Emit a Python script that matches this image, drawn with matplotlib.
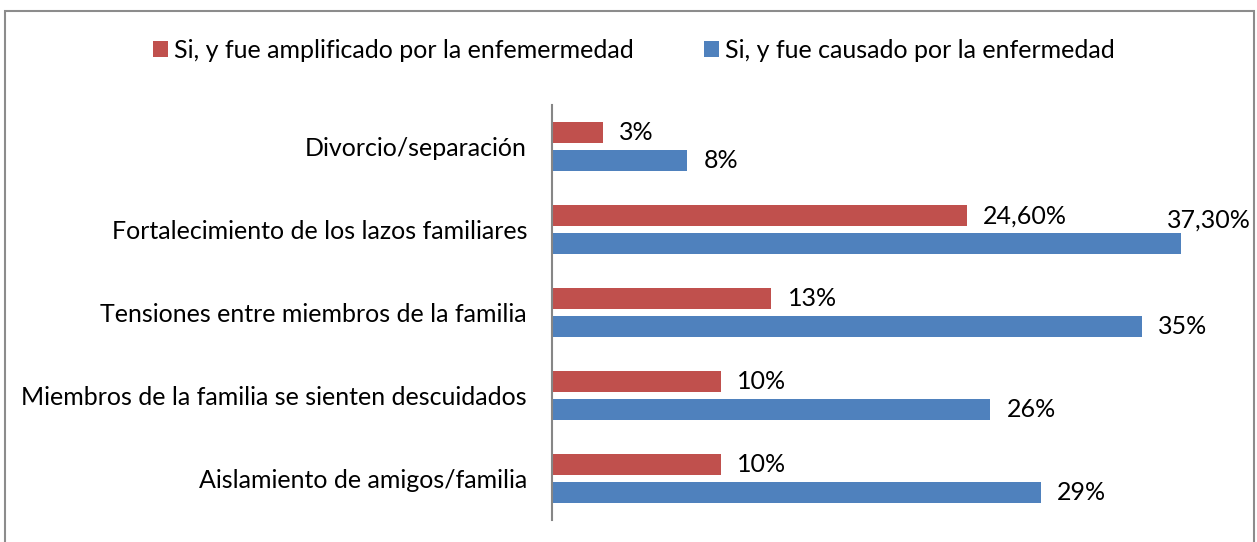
import matplotlib
matplotlib.use('Agg')
import matplotlib.pyplot as plt
from matplotlib.patches import Rectangle
import numpy as np

# data (top to bottom as in the chart)
categories = [
    'Divorcio/separación',
    'Fortalecimiento de los lazos familiares',
    'Tensiones entre miembros de la familia',
    'Miembros de la familia se sienten descuidados',
    'Aislamiento de amigos/familia',
]
amplificado = [3.0, 24.6, 13.0, 10.0, 10.0]
causado = [8.0, 37.3, 35.0, 26.0, 29.0]
labels_amplificado = ['3%', '24,60%', '13%', '10%', '10%']
labels_causado = ['8%', '37,30%', '35%', '26%', '29%']
series_names = ['Si, y fue amplificado por la enfemermedad',
                'Si, y fue causado por la enfermedad']

RED = '#C0504D'
BLUE = '#4F81BD'
W, H = 1257, 542
FS = 18

plt.rcParams['font.family'] = ['Lato', 'DejaVu Sans']

fig = plt.figure(figsize=(W / 100, H / 100), dpi=100)
fig.patches.append(Rectangle((5 / W, -0.05), (1254 - 5) / W, (H - 11) / H + 0.05,
                             transform=fig.transFigure, fill=False,
                             edgecolor='#8C8C8C', linewidth=1.5))

ax = fig.add_axes([552 / W, (H - 520) / H, (1226 - 552) / W, (520 - 105) / H])

y = np.arange(len(categories))
bh = 0.25
off = 0.165
ax.barh(y - off, amplificado, height=bh, color=RED, label=series_names[0])
ax.barh(y + off, causado, height=bh, color=BLUE, label=series_names[1])

ax.set_xlim(0, 40)
ax.set_ylim(len(categories) - 0.5, -0.5)
ax.set_yticks(y)
ax.set_yticklabels(categories, fontsize=FS)
ax.tick_params(axis='y', length=0, pad=18)
ax.set_xticks([])
for s in ['top', 'right', 'bottom']:
    ax.spines[s].set_visible(False)
ax.spines['left'].set_color('#868686')
ax.spines['left'].set_linewidth(1.5)

for i in range(len(categories)):
    ax.annotate(labels_amplificado[i], (amplificado[i], y[i] - off),
                xytext=(12, 0), textcoords='offset points', va='center',
                fontsize=FS)
    if labels_causado[i] == '37,30%':
        # label moved up in the original chart
        ax.annotate(labels_causado[i], (causado[i], y[i] + off),
                    xytext=(-10, 17), textcoords='offset points', va='center',
                    fontsize=FS)
    else:
        ax.annotate(labels_causado[i], (causado[i], y[i] + off),
                    xytext=(12, 0), textcoords='offset points', va='center',
                    fontsize=FS)

fig.legend(loc='center', bbox_to_anchor=(634 / W, 1 - 50 / H), ncol=2,
           frameon=False, fontsize=FS, handlelength=0.6, handleheight=0.6,
           handletextpad=0.25, columnspacing=2.8)

fig.savefig('out.png', dpi=100)
